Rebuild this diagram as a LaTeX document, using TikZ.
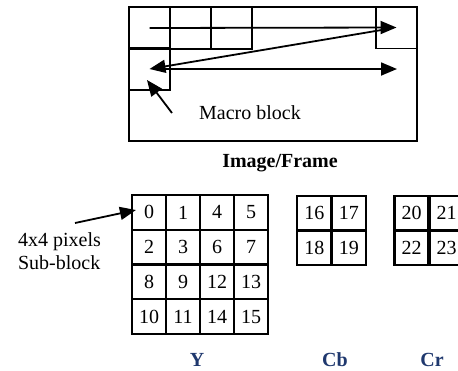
\documentclass[tikz,border=0pt]{standalone}
\usepackage{fontspec}
\setmainfont{Liberation Serif}
\usetikzlibrary{arrows.meta}
\definecolor{planeblue}{RGB}{31,56,110}

\begin{document}
\begin{tikzpicture}[
    x=0.5pt, y=-0.5pt, % one unit = one pixel of the layout
    >={Triangle[length=8pt,width=6.5pt]},
    every node/.style={font=\fontsize{10}{11.5}\selectfont},
    mblock/.style={
        rectangle, draw=black, line width=0.9pt,
        minimum width=20.5pt, minimum height=21pt, inner sep=0pt
    },
    % Sub-block cells of the macro block
    cell/.style={
        rectangle, draw=black, line width=1.1pt,
        minimum width=17pt, minimum height=17.3pt, inner sep=0pt
    },
    plane/.style={font=\fontsize{10}{11.5}\selectfont\bfseries, text=planeblue, inner sep=1pt},
    scan/.style={->, line width=0.9pt}
]
    \useasboundingbox (0,0) rectangle (458,370);
    \clip (0,0) rectangle (458,370);

    % --- Image / Frame with macro blocks ---
    \node[draw, line width=0.9pt, minimum width=144pt, minimum height=67pt,
          inner sep=0pt] (frame) at (273,74) {};
    \node[mblock] (mb1) at (149.5,28) {};
    \node[mblock] (mb2) at (190.5,28) {};
    \node[mblock] (mb3) at (231.5,28) {};
    \node[mblock] (mbR) at (396.5,27.5) {};
    \node[mblock] (mb5) at (149.5,69) {};

    \node (mblabel) at (250,113) {Macro block};
    \node[font=\fontsize{10}{11.5}\selectfont\bfseries] (framelabel) at (280,163) {Image/Frame};

    \coordinate (row2end) at (397,69);
    \coordinate (mbtail) at (172,113);
    \coordinate (mbtip) at (147,80);

    % raster scan order of the macro blocks
    \draw[scan] (mb1.center) -- (mbR.center);
    \draw[scan, shorten <=7pt] (mbR.center) -- (mb5.center);
    \draw[scan, shorten <=6pt] (mb5.center) -- (row2end);
    \draw[scan] (mbtail) -- (mbtip);

    % --- 4x4 sub-blocks: Y ---
    \foreach \n [count=\i from 0] in {0,1,4,5,2,3,6,7,8,9,12,13,10,11,14,15} {
        \pgfmathtruncatemacro{\col}{mod(\i,4)}
        \pgfmathtruncatemacro{\row}{int(\i/4)}
        \node[cell] (y\n) at (149+34*\col,212.4+34.75*\row) {\n};
    }

    % --- Cb and Cr ---
    \foreach \n [count=\i from 0] in {16,17,18,19} {
        \pgfmathtruncatemacro{\col}{mod(\i,2)}
        \pgfmathtruncatemacro{\row}{int(\i/2)}
        \node[cell] (cb\n) at (314.3+34.5*\col,213.3+34.5*\row) {\n};
    }
    \foreach \n [count=\i from 0] in {20,21,22,23} {
        \pgfmathtruncatemacro{\col}{mod(\i,2)}
        \pgfmathtruncatemacro{\row}{int(\i/2)}
        \node[cell] (cr\n) at (411.5+35*\col,213.3+34.5*\row) {\n};
    }

    \node[anchor=west, align=left] (sblabel) at (11,251.5) {4x4 pixels\\Sub-block};
    \coordinate (sbtail) at (75,223);
    \draw[scan] (sbtail) -- ([xshift=2.5pt,yshift=1.2pt]y0.west);

    \node[plane] (ylabel) at (197,360) {Y};
    \node[plane] (cblabel) at (335,360) {Cb};
    \node[plane] (crlabel) at (432,360) {Cr};

\end{tikzpicture}
\end{document}
